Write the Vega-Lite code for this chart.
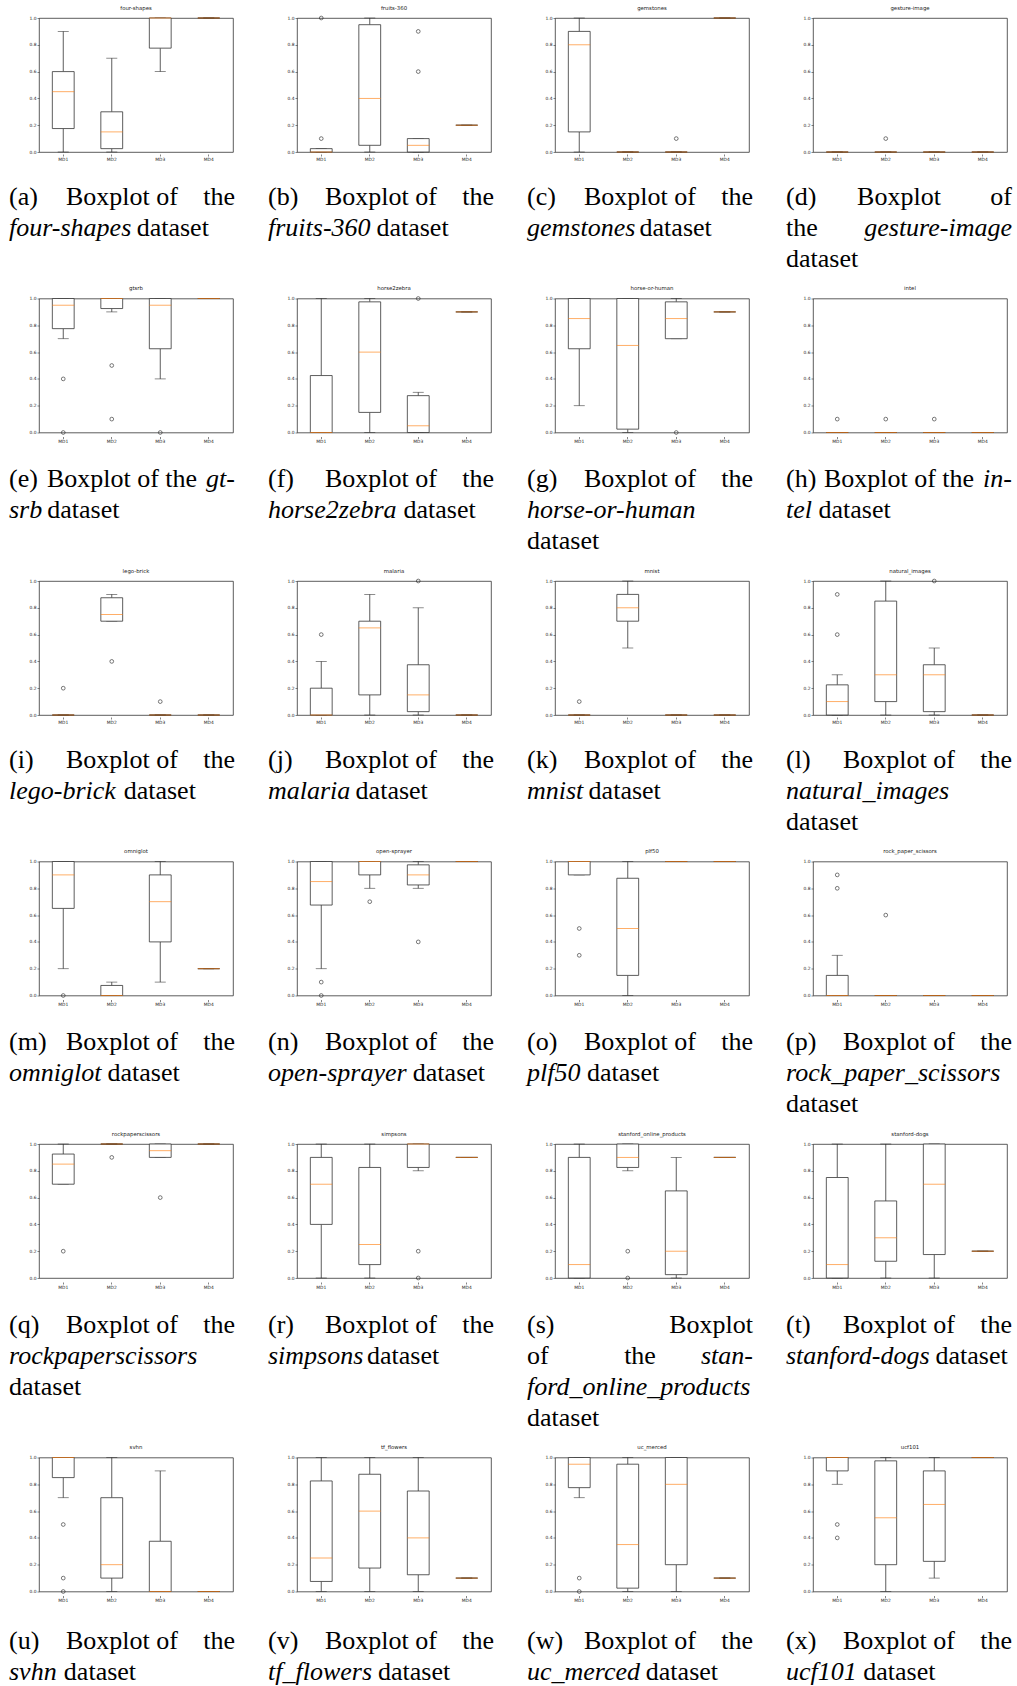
{
  "$schema": "https://vega.github.io/schema/vega-lite/v6.json",
  "padding": {"left": 8, "top": 5, "right": 0, "bottom": 0},
  "datasets": {
    "stats": [
      {"ds":"four-shapes","md":"MD1","lo":0,"q1":0.175,"med":0.45,"q3":0.6,"hi":0.9},
      {"ds":"four-shapes","md":"MD2","lo":0,"q1":0.025,"med":0.15,"q3":0.3,"hi":0.7},
      {"ds":"four-shapes","md":"MD3","lo":0.6,"q1":0.775,"med":1,"q3":1,"hi":1},
      {"ds":"four-shapes","md":"MD4","lo":1,"q1":1,"med":1,"q3":1,"hi":1},
      {"ds":"fruits-360","md":"MD1","lo":0,"q1":0,"med":0,"q3":0.025,"hi":0.025},
      {"ds":"fruits-360","md":"MD2","lo":0,"q1":0.05,"med":0.4,"q3":0.95,"hi":1},
      {"ds":"fruits-360","md":"MD3","lo":0,"q1":0,"med":0.05,"q3":0.1,"hi":0.1},
      {"ds":"fruits-360","md":"MD4","lo":0.2,"q1":0.2,"med":0.2,"q3":0.2,"hi":0.2},
      {"ds":"gemstones","md":"MD1","lo":0,"q1":0.15,"med":0.8,"q3":0.9,"hi":1},
      {"ds":"gemstones","md":"MD2","lo":0,"q1":0,"med":0,"q3":0,"hi":0},
      {"ds":"gemstones","md":"MD3","lo":0,"q1":0,"med":0,"q3":0,"hi":0},
      {"ds":"gemstones","md":"MD4","lo":1,"q1":1,"med":1,"q3":1,"hi":1},
      {"ds":"gesture-image","md":"MD1","lo":0,"q1":0,"med":0,"q3":0,"hi":0},
      {"ds":"gesture-image","md":"MD2","lo":0,"q1":0,"med":0,"q3":0,"hi":0},
      {"ds":"gesture-image","md":"MD3","lo":0,"q1":0,"med":0,"q3":0,"hi":0},
      {"ds":"gesture-image","md":"MD4","lo":0,"q1":0,"med":0,"q3":0,"hi":0},
      {"ds":"gtsrb","md":"MD1","lo":0.7,"q1":0.775,"med":0.95,"q3":1,"hi":1},
      {"ds":"gtsrb","md":"MD2","lo":0.9,"q1":0.925,"med":1,"q3":1,"hi":1},
      {"ds":"gtsrb","md":"MD3","lo":0.4,"q1":0.625,"med":0.95,"q3":1,"hi":1},
      {"ds":"gtsrb","md":"MD4","lo":1,"q1":1,"med":1,"q3":1,"hi":1},
      {"ds":"horse2zebra","md":"MD1","lo":0,"q1":0,"med":0,"q3":0.425,"hi":1},
      {"ds":"horse2zebra","md":"MD2","lo":0,"q1":0.15,"med":0.6,"q3":0.975,"hi":1},
      {"ds":"horse2zebra","md":"MD3","lo":0,"q1":0,"med":0.05,"q3":0.275,"hi":0.3},
      {"ds":"horse2zebra","md":"MD4","lo":0.9,"q1":0.9,"med":0.9,"q3":0.9,"hi":0.9},
      {"ds":"horse-or-human","md":"MD1","lo":0.2,"q1":0.625,"med":0.85,"q3":1,"hi":1},
      {"ds":"horse-or-human","md":"MD2","lo":0,"q1":0.025,"med":0.65,"q3":1,"hi":1},
      {"ds":"horse-or-human","md":"MD3","lo":0.7,"q1":0.7,"med":0.85,"q3":0.975,"hi":1},
      {"ds":"horse-or-human","md":"MD4","lo":0.9,"q1":0.9,"med":0.9,"q3":0.9,"hi":0.9},
      {"ds":"intel","md":"MD1","lo":0,"q1":0,"med":0,"q3":0,"hi":0},
      {"ds":"intel","md":"MD2","lo":0,"q1":0,"med":0,"q3":0,"hi":0},
      {"ds":"intel","md":"MD3","lo":0,"q1":0,"med":0,"q3":0,"hi":0},
      {"ds":"intel","md":"MD4","lo":0,"q1":0,"med":0,"q3":0,"hi":0},
      {"ds":"lego-brick","md":"MD1","lo":0,"q1":0,"med":0,"q3":0,"hi":0},
      {"ds":"lego-brick","md":"MD2","lo":0.7,"q1":0.7,"med":0.75,"q3":0.875,"hi":0.9},
      {"ds":"lego-brick","md":"MD3","lo":0,"q1":0,"med":0,"q3":0,"hi":0},
      {"ds":"lego-brick","md":"MD4","lo":0,"q1":0,"med":0,"q3":0,"hi":0},
      {"ds":"malaria","md":"MD1","lo":0,"q1":0,"med":0,"q3":0.2,"hi":0.4},
      {"ds":"malaria","md":"MD2","lo":0,"q1":0.15,"med":0.65,"q3":0.7,"hi":0.9},
      {"ds":"malaria","md":"MD3","lo":0,"q1":0.025,"med":0.15,"q3":0.375,"hi":0.8},
      {"ds":"malaria","md":"MD4","lo":0,"q1":0,"med":0,"q3":0,"hi":0},
      {"ds":"mnist","md":"MD1","lo":0,"q1":0,"med":0,"q3":0,"hi":0},
      {"ds":"mnist","md":"MD2","lo":0.5,"q1":0.7,"med":0.8,"q3":0.9,"hi":1},
      {"ds":"mnist","md":"MD3","lo":0,"q1":0,"med":0,"q3":0,"hi":0},
      {"ds":"mnist","md":"MD4","lo":0,"q1":0,"med":0,"q3":0,"hi":0},
      {"ds":"natural_images","md":"MD1","lo":0,"q1":0,"med":0.1,"q3":0.225,"hi":0.3},
      {"ds":"natural_images","md":"MD2","lo":0,"q1":0.1,"med":0.3,"q3":0.85,"hi":1},
      {"ds":"natural_images","md":"MD3","lo":0,"q1":0.025,"med":0.3,"q3":0.375,"hi":0.5},
      {"ds":"natural_images","md":"MD4","lo":0,"q1":0,"med":0,"q3":0,"hi":0},
      {"ds":"omniglot","md":"MD1","lo":0.2,"q1":0.65,"med":0.9,"q3":1,"hi":1},
      {"ds":"omniglot","md":"MD2","lo":0,"q1":0,"med":0,"q3":0.075,"hi":0.1},
      {"ds":"omniglot","md":"MD3","lo":0.1,"q1":0.4,"med":0.7,"q3":0.9,"hi":1},
      {"ds":"omniglot","md":"MD4","lo":0.2,"q1":0.2,"med":0.2,"q3":0.2,"hi":0.2},
      {"ds":"open-sprayer","md":"MD1","lo":0.2,"q1":0.675,"med":0.85,"q3":1,"hi":1},
      {"ds":"open-sprayer","md":"MD2","lo":0.8,"q1":0.9,"med":1,"q3":1,"hi":1},
      {"ds":"open-sprayer","md":"MD3","lo":0.8,"q1":0.825,"med":0.9,"q3":0.975,"hi":1},
      {"ds":"open-sprayer","md":"MD4","lo":1,"q1":1,"med":1,"q3":1,"hi":1},
      {"ds":"plf50","md":"MD1","lo":0.9,"q1":0.9,"med":1,"q3":1,"hi":1},
      {"ds":"plf50","md":"MD2","lo":0,"q1":0.15,"med":0.5,"q3":0.875,"hi":1},
      {"ds":"plf50","md":"MD3","lo":1,"q1":1,"med":1,"q3":1,"hi":1},
      {"ds":"plf50","md":"MD4","lo":1,"q1":1,"med":1,"q3":1,"hi":1},
      {"ds":"rock_paper_scissors","md":"MD1","lo":0,"q1":0,"med":0,"q3":0.15,"hi":0.3},
      {"ds":"rock_paper_scissors","md":"MD2","lo":0,"q1":0,"med":0,"q3":0,"hi":0},
      {"ds":"rock_paper_scissors","md":"MD3","lo":0,"q1":0,"med":0,"q3":0,"hi":0},
      {"ds":"rock_paper_scissors","md":"MD4","lo":0,"q1":0,"med":0,"q3":0,"hi":0},
      {"ds":"rockpaperscissors","md":"MD1","lo":0.7,"q1":0.7,"med":0.85,"q3":0.925,"hi":1},
      {"ds":"rockpaperscissors","md":"MD2","lo":1,"q1":1,"med":1,"q3":1,"hi":1},
      {"ds":"rockpaperscissors","md":"MD3","lo":0.9,"q1":0.9,"med":0.95,"q3":1,"hi":1},
      {"ds":"rockpaperscissors","md":"MD4","lo":1,"q1":1,"med":1,"q3":1,"hi":1},
      {"ds":"simpsons","md":"MD1","lo":0,"q1":0.4,"med":0.7,"q3":0.9,"hi":1},
      {"ds":"simpsons","md":"MD2","lo":0,"q1":0.1,"med":0.25,"q3":0.825,"hi":1},
      {"ds":"simpsons","md":"MD3","lo":0.8,"q1":0.825,"med":1,"q3":1,"hi":1},
      {"ds":"simpsons","md":"MD4","lo":0.9,"q1":0.9,"med":0.9,"q3":0.9,"hi":0.9},
      {"ds":"stanford_online_products","md":"MD1","lo":0,"q1":0,"med":0.1,"q3":0.9,"hi":1},
      {"ds":"stanford_online_products","md":"MD2","lo":0.8,"q1":0.825,"med":0.9,"q3":1,"hi":1},
      {"ds":"stanford_online_products","md":"MD3","lo":0,"q1":0.025,"med":0.2,"q3":0.65,"hi":0.9},
      {"ds":"stanford_online_products","md":"MD4","lo":0.9,"q1":0.9,"med":0.9,"q3":0.9,"hi":0.9},
      {"ds":"stanford-dogs","md":"MD1","lo":0,"q1":0,"med":0.1,"q3":0.75,"hi":1},
      {"ds":"stanford-dogs","md":"MD2","lo":0,"q1":0.125,"med":0.3,"q3":0.575,"hi":1},
      {"ds":"stanford-dogs","md":"MD3","lo":0,"q1":0.175,"med":0.7,"q3":1,"hi":1},
      {"ds":"stanford-dogs","md":"MD4","lo":0.2,"q1":0.2,"med":0.2,"q3":0.2,"hi":0.2},
      {"ds":"svhn","md":"MD1","lo":0.7,"q1":0.85,"med":1,"q3":1,"hi":1},
      {"ds":"svhn","md":"MD2","lo":0,"q1":0.1,"med":0.2,"q3":0.7,"hi":1},
      {"ds":"svhn","md":"MD3","lo":0,"q1":0,"med":0,"q3":0.375,"hi":0.9},
      {"ds":"svhn","md":"MD4","lo":0,"q1":0,"med":0,"q3":0,"hi":0},
      {"ds":"tf_flowers","md":"MD1","lo":0,"q1":0.075,"med":0.25,"q3":0.825,"hi":1},
      {"ds":"tf_flowers","md":"MD2","lo":0,"q1":0.175,"med":0.6,"q3":0.875,"hi":1},
      {"ds":"tf_flowers","md":"MD3","lo":0,"q1":0.125,"med":0.4,"q3":0.75,"hi":1},
      {"ds":"tf_flowers","md":"MD4","lo":0.1,"q1":0.1,"med":0.1,"q3":0.1,"hi":0.1},
      {"ds":"uc_merced","md":"MD1","lo":0.7,"q1":0.775,"med":0.95,"q3":1,"hi":1},
      {"ds":"uc_merced","md":"MD2","lo":0,"q1":0.025,"med":0.35,"q3":0.95,"hi":1},
      {"ds":"uc_merced","md":"MD3","lo":0,"q1":0.2,"med":0.8,"q3":1,"hi":1},
      {"ds":"uc_merced","md":"MD4","lo":0.1,"q1":0.1,"med":0.1,"q3":0.1,"hi":0.1},
      {"ds":"ucf101","md":"MD1","lo":0.8,"q1":0.9,"med":1,"q3":1,"hi":1},
      {"ds":"ucf101","md":"MD2","lo":0,"q1":0.2,"med":0.55,"q3":0.975,"hi":1},
      {"ds":"ucf101","md":"MD3","lo":0.1,"q1":0.225,"med":0.65,"q3":0.9,"hi":1},
      {"ds":"ucf101","md":"MD4","lo":1,"q1":1,"med":1,"q3":1,"hi":1},
      {"ds":"fruits-360","md":"MD1","v":0.1},
      {"ds":"fruits-360","md":"MD1","v":1},
      {"ds":"fruits-360","md":"MD3","v":0.6},
      {"ds":"fruits-360","md":"MD3","v":0.9},
      {"ds":"gemstones","md":"MD3","v":0.1},
      {"ds":"gesture-image","md":"MD2","v":0.1},
      {"ds":"gtsrb","md":"MD1","v":0.4},
      {"ds":"gtsrb","md":"MD1","v":0},
      {"ds":"gtsrb","md":"MD2","v":0.5},
      {"ds":"gtsrb","md":"MD2","v":0.1},
      {"ds":"gtsrb","md":"MD3","v":0},
      {"ds":"horse2zebra","md":"MD3","v":1},
      {"ds":"horse-or-human","md":"MD3","v":0},
      {"ds":"intel","md":"MD1","v":0.1},
      {"ds":"intel","md":"MD2","v":0.1},
      {"ds":"intel","md":"MD3","v":0.1},
      {"ds":"lego-brick","md":"MD1","v":0.2},
      {"ds":"lego-brick","md":"MD2","v":0.4},
      {"ds":"lego-brick","md":"MD3","v":0.1},
      {"ds":"malaria","md":"MD1","v":0.6},
      {"ds":"malaria","md":"MD3","v":1},
      {"ds":"mnist","md":"MD1","v":0.1},
      {"ds":"natural_images","md":"MD1","v":0.9},
      {"ds":"natural_images","md":"MD1","v":0.6},
      {"ds":"natural_images","md":"MD3","v":1},
      {"ds":"omniglot","md":"MD1","v":0},
      {"ds":"open-sprayer","md":"MD1","v":0.1},
      {"ds":"open-sprayer","md":"MD1","v":0},
      {"ds":"open-sprayer","md":"MD2","v":0.7},
      {"ds":"open-sprayer","md":"MD3","v":0.4},
      {"ds":"plf50","md":"MD1","v":0.5},
      {"ds":"plf50","md":"MD1","v":0.3},
      {"ds":"rock_paper_scissors","md":"MD1","v":0.9},
      {"ds":"rock_paper_scissors","md":"MD1","v":0.8},
      {"ds":"rock_paper_scissors","md":"MD2","v":0.6},
      {"ds":"rockpaperscissors","md":"MD1","v":0.2},
      {"ds":"rockpaperscissors","md":"MD2","v":0.9},
      {"ds":"rockpaperscissors","md":"MD3","v":0.6},
      {"ds":"simpsons","md":"MD3","v":0.2},
      {"ds":"simpsons","md":"MD3","v":0},
      {"ds":"stanford_online_products","md":"MD2","v":0.2},
      {"ds":"stanford_online_products","md":"MD2","v":0},
      {"ds":"svhn","md":"MD1","v":0.5},
      {"ds":"svhn","md":"MD1","v":0.1},
      {"ds":"svhn","md":"MD1","v":0},
      {"ds":"uc_merced","md":"MD1","v":0.1},
      {"ds":"uc_merced","md":"MD1","v":0},
      {"ds":"ucf101","md":"MD1","v":0.5},
      {"ds":"ucf101","md":"MD1","v":0.4}
    ],
    "cap": [
      {"id":"a","ln":1,"l":"(a)","c":"Boxplot of","r":"the"},
      {"id":"a","ln":2,"n":"four-shapes","d":"dataset"},
      {"id":"b","ln":1,"l":"(b)","c":"Boxplot of","r":"the"},
      {"id":"b","ln":2,"n":"fruits-360","d":"dataset"},
      {"id":"c","ln":1,"l":"(c)","c":"Boxplot of","r":"the"},
      {"id":"c","ln":2,"n":"gemstones","d":"dataset"},
      {"id":"d","ln":1,"l":"(d)","c":"Boxplot","r":"of"},
      {"id":"d","ln":2,"l":"the","nr":"gesture-image"},
      {"id":"d","ln":3,"l":"dataset"},
      {"id":"e","ln":1,"l":"(e)","c":"Boxplot of the","nr":"gt-"},
      {"id":"e","ln":2,"n":"srb","d":"dataset"},
      {"id":"f","ln":1,"l":"(f)","c":"Boxplot of","r":"the"},
      {"id":"f","ln":2,"n":"horse2zebra","d":"dataset"},
      {"id":"g","ln":1,"l":"(g)","c":"Boxplot of","r":"the"},
      {"id":"g","ln":2,"n":"horse-or-human"},
      {"id":"g","ln":3,"l":"dataset"},
      {"id":"h","ln":1,"l":"(h)","c":"Boxplot of the","nr":"in-"},
      {"id":"h","ln":2,"n":"tel","d":"dataset"},
      {"id":"i","ln":1,"l":"(i)","c":"Boxplot of","r":"the"},
      {"id":"i","ln":2,"n":"lego-brick","d":"dataset"},
      {"id":"j","ln":1,"l":"(j)","c":"Boxplot of","r":"the"},
      {"id":"j","ln":2,"n":"malaria","d":"dataset"},
      {"id":"k","ln":1,"l":"(k)","c":"Boxplot of","r":"the"},
      {"id":"k","ln":2,"n":"mnist","d":"dataset"},
      {"id":"l","ln":1,"l":"(l)","c":"Boxplot of","r":"the"},
      {"id":"l","ln":2,"n":"natural_images"},
      {"id":"l","ln":3,"l":"dataset"},
      {"id":"m","ln":1,"l":"(m)","c":"Boxplot of","r":"the"},
      {"id":"m","ln":2,"n":"omniglot","d":"dataset"},
      {"id":"n","ln":1,"l":"(n)","c":"Boxplot of","r":"the"},
      {"id":"n","ln":2,"n":"open-sprayer","d":"dataset"},
      {"id":"o","ln":1,"l":"(o)","c":"Boxplot of","r":"the"},
      {"id":"o","ln":2,"n":"plf50","d":"dataset"},
      {"id":"p","ln":1,"l":"(p)","c":"Boxplot of","r":"the"},
      {"id":"p","ln":2,"n":"rock_paper_scissors"},
      {"id":"p","ln":3,"l":"dataset"},
      {"id":"q","ln":1,"l":"(q)","c":"Boxplot of","r":"the"},
      {"id":"q","ln":2,"n":"rockpaperscissors"},
      {"id":"q","ln":3,"l":"dataset"},
      {"id":"r","ln":1,"l":"(r)","c":"Boxplot of","r":"the"},
      {"id":"r","ln":2,"n":"simpsons","d":"dataset"},
      {"id":"s","ln":1,"l":"(s)","r":"Boxplot"},
      {"id":"s","ln":2,"l":"of","c":"the","nr":"stan-"},
      {"id":"s","ln":3,"n":"ford_online_products"},
      {"id":"s","ln":4,"l":"dataset"},
      {"id":"t","ln":1,"l":"(t)","c":"Boxplot of","r":"the"},
      {"id":"t","ln":2,"n":"stanford-dogs","d":"dataset"},
      {"id":"u","ln":1,"l":"(u)","c":"Boxplot of","r":"the"},
      {"id":"u","ln":2,"n":"svhn","d":"dataset"},
      {"id":"v","ln":1,"l":"(v)","c":"Boxplot of","r":"the"},
      {"id":"v","ln":2,"n":"tf_flowers","d":"dataset"},
      {"id":"w","ln":1,"l":"(w)","c":"Boxplot of","r":"the"},
      {"id":"w","ln":2,"n":"uc_merced","d":"dataset"},
      {"id":"x","ln":1,"l":"(x)","c":"Boxplot of","r":"the"},
      {"id":"x","ln":2,"n":"ucf101","d":"dataset"}
    ]
  },
  "spacing": 11.5,
  "vconcat": [
    {"spacing": 20, "vconcat": [
      {"data": {"name": "stats"},
       "transform": [{"filter": {"field": "ds", "oneOf": ["four-shapes","fruits-360","gemstones","gesture-image"]}}],
       "facet": {"column": {"field": "ds", "type": "nominal", "title": null, "sort": ["four-shapes","fruits-360","gemstones","gesture-image"]}},
       "spacing": 32, "resolve": {"axis": {"y": "independent"}},
       "spec": {"width": 194, "height": 134, "view": {"stroke": "#333", "strokeWidth": 0.8},
        "encoding": {"x": {"field": "md", "type": "nominal", "title": null, "scale": {"domain": ["MD1","MD2","MD3","MD4"], "paddingInner": 0, "paddingOuter": 0}, "axis": {"labelAngle": 0}}},
        "layer": [
          {"transform": [{"filter": "isValid(datum.q1)"}], "mark": {"type": "rule", "color": "#333", "strokeWidth": 0.8}, "encoding": {"y": {"field": "lo", "type": "quantitative", "title": null, "scale": {"domain": [0, 1], "nice": false, "zero": false}, "axis": {"values": [0, 0.2, 0.4, 0.6, 0.8, 1], "format": ".1f", "labelOverlap": false}}, "y2": {"field": "q1"}}},
          {"transform": [{"filter": "isValid(datum.q1)"}], "mark": {"type": "rule", "color": "#333", "strokeWidth": 0.8}, "encoding": {"y": {"field": "q3", "type": "quantitative", "title": null, "axis": {"values": [0, 0.2, 0.4, 0.6, 0.8, 1], "format": ".1f", "labelOverlap": false}}, "y2": {"field": "hi"}}},
          {"transform": [{"filter": "isValid(datum.q1)"}], "mark": {"type": "tick", "color": "#333", "size": 11, "thickness": 0.8}, "encoding": {"y": {"field": "lo", "type": "quantitative", "title": null, "axis": {"values": [0, 0.2, 0.4, 0.6, 0.8, 1], "format": ".1f", "labelOverlap": false}}}},
          {"transform": [{"filter": "isValid(datum.q1)"}], "mark": {"type": "tick", "color": "#333", "size": 11, "thickness": 0.8}, "encoding": {"y": {"field": "hi", "type": "quantitative", "title": null, "axis": {"values": [0, 0.2, 0.4, 0.6, 0.8, 1], "format": ".1f", "labelOverlap": false}}}},
          {"transform": [{"filter": "isValid(datum.q1)"}], "mark": {"type": "bar", "fill": "#fff", "stroke": "#333", "strokeWidth": 0.8, "width": {"band": 0.45}}, "encoding": {"y": {"field": "q1", "type": "quantitative", "title": null, "axis": {"values": [0, 0.2, 0.4, 0.6, 0.8, 1], "format": ".1f", "labelOverlap": false}}, "y2": {"field": "q3"}}},
          {"transform": [{"filter": "isValid(datum.q1)"}], "mark": {"type": "tick", "color": "#ff7f0e", "size": 22, "thickness": 0.9}, "encoding": {"y": {"field": "med", "type": "quantitative", "title": null, "axis": {"values": [0, 0.2, 0.4, 0.6, 0.8, 1], "format": ".1f", "labelOverlap": false}}}},
          {"transform": [{"filter": "isValid(datum.v)"}], "mark": {"type": "point", "shape": "circle", "filled": false, "stroke": "#222", "strokeWidth": 0.6, "size": 14, "opacity": 1}, "encoding": {"y": {"field": "v", "type": "quantitative", "title": null, "axis": {"values": [0, 0.2, 0.4, 0.6, 0.8, 1], "format": ".1f", "labelOverlap": false}}}}
        ]}},
      {"data": {"name": "cap"},
       "transform": [{"filter": {"field": "id", "oneOf": ["a","b","c","d"]}}],
       "facet": {"column": {"field": "id", "type": "nominal", "title": null, "header": null}},
       "spacing": 3,
       "spec": {"width": 226, "height": {"step": 31}, "view": {"stroke": null},
        "encoding": {"y": {"field": "ln", "type": "ordinal", "axis": null, "title": null}},
        "layer": [
          {"transform": [{"filter": "datum.l"}], "mark": {"type": "text", "align": "left", "font": "Liberation Serif", "fontSize": 26, "color": "#000"}, "encoding": {"x": {"datum": 0, "type": "quantitative", "scale": {"domain": [1.1538, 9.8458], "nice": false, "zero": false}, "axis": null}, "text": {"field": "l"}}},
          {"transform": [{"filter": "datum.c"}], "mark": {"type": "text", "align": "center", "font": "Liberation Serif", "fontSize": 26, "color": "#000"}, "encoding": {"x": {"datum": 4.346, "type": "quantitative", "scale": {"domain": [1.1538, 9.8458], "nice": false, "zero": false}, "axis": null}, "text": {"field": "c"}}},
          {"transform": [{"filter": "datum.r"}], "mark": {"type": "text", "align": "right", "font": "Liberation Serif", "fontSize": 26, "color": "#000"}, "encoding": {"x": {"datum": 8.692, "type": "quantitative", "scale": {"domain": [1.1538, 9.8458], "nice": false, "zero": false}, "axis": null}, "text": {"field": "r"}}},
          {"transform": [{"filter": "datum.nr"}], "mark": {"type": "text", "align": "right", "font": "Liberation Serif", "fontStyle": "italic", "fontSize": 26, "color": "#000"}, "encoding": {"x": {"datum": 8.692, "type": "quantitative", "scale": {"domain": [1.1538, 9.8458], "nice": false, "zero": false}, "axis": null}, "text": {"field": "nr"}}},
          {"transform": [{"filter": "datum.n"}], "mark": {"type": "text", "align": "left", "font": "Liberation Serif", "fontStyle": "italic", "fontSize": 26, "color": "#000"}, "encoding": {"x": {"datum": 0, "type": "quantitative", "scale": {"domain": [1.1538, 9.8458], "nice": false, "zero": false}, "axis": null}, "text": {"field": "n"}}},
          {"transform": [{"filter": "datum.d"}, {"calculate": "0.5*length(datum.n) - 0.22*length(replace(datum.n, regexp('[^iltfj]', 'g'), '')) - 0.14*length(replace(datum.n, regexp('[^rs-]', 'g'), '')) - 0.06*length(replace(datum.n, regexp('[^ec]', 'g'), '')) + 0.2*length(replace(datum.n, regexp('[^mw]', 'g'), '')) + 0.25", "as": "after"}], "mark": {"type": "text", "align": "left", "font": "Liberation Serif", "fontSize": 26, "color": "#000"}, "encoding": {"x": {"field": "after", "type": "quantitative", "scale": {"domain": [1.1538, 9.8458], "nice": false, "zero": false}, "axis": null}, "text": {"field": "d"}}}
        ]}}
    ]},
    {"spacing": 20, "vconcat": [
      {"data": {"name": "stats"},
       "transform": [{"filter": {"field": "ds", "oneOf": ["gtsrb","horse2zebra","horse-or-human","intel"]}}],
       "facet": {"column": {"field": "ds", "type": "nominal", "title": null, "sort": ["gtsrb","horse2zebra","horse-or-human","intel"]}},
       "spacing": 32, "resolve": {"axis": {"y": "independent"}},
       "spec": {"width": 194, "height": 134, "view": {"stroke": "#333", "strokeWidth": 0.8},
        "encoding": {"x": {"field": "md", "type": "nominal", "title": null, "scale": {"domain": ["MD1","MD2","MD3","MD4"], "paddingInner": 0, "paddingOuter": 0}, "axis": {"labelAngle": 0}}},
        "layer": [
          {"transform": [{"filter": "isValid(datum.q1)"}], "mark": {"type": "rule", "color": "#333", "strokeWidth": 0.8}, "encoding": {"y": {"field": "lo", "type": "quantitative", "title": null, "scale": {"domain": [0, 1], "nice": false, "zero": false}, "axis": {"values": [0, 0.2, 0.4, 0.6, 0.8, 1], "format": ".1f", "labelOverlap": false}}, "y2": {"field": "q1"}}},
          {"transform": [{"filter": "isValid(datum.q1)"}], "mark": {"type": "rule", "color": "#333", "strokeWidth": 0.8}, "encoding": {"y": {"field": "q3", "type": "quantitative", "title": null, "axis": {"values": [0, 0.2, 0.4, 0.6, 0.8, 1], "format": ".1f", "labelOverlap": false}}, "y2": {"field": "hi"}}},
          {"transform": [{"filter": "isValid(datum.q1)"}], "mark": {"type": "tick", "color": "#333", "size": 11, "thickness": 0.8}, "encoding": {"y": {"field": "lo", "type": "quantitative", "title": null, "axis": {"values": [0, 0.2, 0.4, 0.6, 0.8, 1], "format": ".1f", "labelOverlap": false}}}},
          {"transform": [{"filter": "isValid(datum.q1)"}], "mark": {"type": "tick", "color": "#333", "size": 11, "thickness": 0.8}, "encoding": {"y": {"field": "hi", "type": "quantitative", "title": null, "axis": {"values": [0, 0.2, 0.4, 0.6, 0.8, 1], "format": ".1f", "labelOverlap": false}}}},
          {"transform": [{"filter": "isValid(datum.q1)"}], "mark": {"type": "bar", "fill": "#fff", "stroke": "#333", "strokeWidth": 0.8, "width": {"band": 0.45}}, "encoding": {"y": {"field": "q1", "type": "quantitative", "title": null, "axis": {"values": [0, 0.2, 0.4, 0.6, 0.8, 1], "format": ".1f", "labelOverlap": false}}, "y2": {"field": "q3"}}},
          {"transform": [{"filter": "isValid(datum.q1)"}], "mark": {"type": "tick", "color": "#ff7f0e", "size": 22, "thickness": 0.9}, "encoding": {"y": {"field": "med", "type": "quantitative", "title": null, "axis": {"values": [0, 0.2, 0.4, 0.6, 0.8, 1], "format": ".1f", "labelOverlap": false}}}},
          {"transform": [{"filter": "isValid(datum.v)"}], "mark": {"type": "point", "shape": "circle", "filled": false, "stroke": "#222", "strokeWidth": 0.6, "size": 14, "opacity": 1}, "encoding": {"y": {"field": "v", "type": "quantitative", "title": null, "axis": {"values": [0, 0.2, 0.4, 0.6, 0.8, 1], "format": ".1f", "labelOverlap": false}}}}
        ]}},
      {"data": {"name": "cap"},
       "transform": [{"filter": {"field": "id", "oneOf": ["e","f","g","h"]}}],
       "facet": {"column": {"field": "id", "type": "nominal", "title": null, "header": null}},
       "spacing": 3,
       "spec": {"width": 226, "height": {"step": 31}, "view": {"stroke": null},
        "encoding": {"y": {"field": "ln", "type": "ordinal", "axis": null, "title": null}},
        "layer": [
          {"transform": [{"filter": "datum.l"}], "mark": {"type": "text", "align": "left", "font": "Liberation Serif", "fontSize": 26, "color": "#000"}, "encoding": {"x": {"datum": 0, "type": "quantitative", "scale": {"domain": [1.1538, 9.8458], "nice": false, "zero": false}, "axis": null}, "text": {"field": "l"}}},
          {"transform": [{"filter": "datum.c"}], "mark": {"type": "text", "align": "center", "font": "Liberation Serif", "fontSize": 26, "color": "#000"}, "encoding": {"x": {"datum": 4.346, "type": "quantitative", "scale": {"domain": [1.1538, 9.8458], "nice": false, "zero": false}, "axis": null}, "text": {"field": "c"}}},
          {"transform": [{"filter": "datum.r"}], "mark": {"type": "text", "align": "right", "font": "Liberation Serif", "fontSize": 26, "color": "#000"}, "encoding": {"x": {"datum": 8.692, "type": "quantitative", "scale": {"domain": [1.1538, 9.8458], "nice": false, "zero": false}, "axis": null}, "text": {"field": "r"}}},
          {"transform": [{"filter": "datum.nr"}], "mark": {"type": "text", "align": "right", "font": "Liberation Serif", "fontStyle": "italic", "fontSize": 26, "color": "#000"}, "encoding": {"x": {"datum": 8.692, "type": "quantitative", "scale": {"domain": [1.1538, 9.8458], "nice": false, "zero": false}, "axis": null}, "text": {"field": "nr"}}},
          {"transform": [{"filter": "datum.n"}], "mark": {"type": "text", "align": "left", "font": "Liberation Serif", "fontStyle": "italic", "fontSize": 26, "color": "#000"}, "encoding": {"x": {"datum": 0, "type": "quantitative", "scale": {"domain": [1.1538, 9.8458], "nice": false, "zero": false}, "axis": null}, "text": {"field": "n"}}},
          {"transform": [{"filter": "datum.d"}, {"calculate": "0.5*length(datum.n) - 0.22*length(replace(datum.n, regexp('[^iltfj]', 'g'), '')) - 0.14*length(replace(datum.n, regexp('[^rs-]', 'g'), '')) - 0.06*length(replace(datum.n, regexp('[^ec]', 'g'), '')) + 0.2*length(replace(datum.n, regexp('[^mw]', 'g'), '')) + 0.25", "as": "after"}], "mark": {"type": "text", "align": "left", "font": "Liberation Serif", "fontSize": 26, "color": "#000"}, "encoding": {"x": {"field": "after", "type": "quantitative", "scale": {"domain": [1.1538, 9.8458], "nice": false, "zero": false}, "axis": null}, "text": {"field": "d"}}}
        ]}}
    ]},
    {"spacing": 20, "vconcat": [
      {"data": {"name": "stats"},
       "transform": [{"filter": {"field": "ds", "oneOf": ["lego-brick","malaria","mnist","natural_images"]}}],
       "facet": {"column": {"field": "ds", "type": "nominal", "title": null, "sort": ["lego-brick","malaria","mnist","natural_images"]}},
       "spacing": 32, "resolve": {"axis": {"y": "independent"}},
       "spec": {"width": 194, "height": 134, "view": {"stroke": "#333", "strokeWidth": 0.8},
        "encoding": {"x": {"field": "md", "type": "nominal", "title": null, "scale": {"domain": ["MD1","MD2","MD3","MD4"], "paddingInner": 0, "paddingOuter": 0}, "axis": {"labelAngle": 0}}},
        "layer": [
          {"transform": [{"filter": "isValid(datum.q1)"}], "mark": {"type": "rule", "color": "#333", "strokeWidth": 0.8}, "encoding": {"y": {"field": "lo", "type": "quantitative", "title": null, "scale": {"domain": [0, 1], "nice": false, "zero": false}, "axis": {"values": [0, 0.2, 0.4, 0.6, 0.8, 1], "format": ".1f", "labelOverlap": false}}, "y2": {"field": "q1"}}},
          {"transform": [{"filter": "isValid(datum.q1)"}], "mark": {"type": "rule", "color": "#333", "strokeWidth": 0.8}, "encoding": {"y": {"field": "q3", "type": "quantitative", "title": null, "axis": {"values": [0, 0.2, 0.4, 0.6, 0.8, 1], "format": ".1f", "labelOverlap": false}}, "y2": {"field": "hi"}}},
          {"transform": [{"filter": "isValid(datum.q1)"}], "mark": {"type": "tick", "color": "#333", "size": 11, "thickness": 0.8}, "encoding": {"y": {"field": "lo", "type": "quantitative", "title": null, "axis": {"values": [0, 0.2, 0.4, 0.6, 0.8, 1], "format": ".1f", "labelOverlap": false}}}},
          {"transform": [{"filter": "isValid(datum.q1)"}], "mark": {"type": "tick", "color": "#333", "size": 11, "thickness": 0.8}, "encoding": {"y": {"field": "hi", "type": "quantitative", "title": null, "axis": {"values": [0, 0.2, 0.4, 0.6, 0.8, 1], "format": ".1f", "labelOverlap": false}}}},
          {"transform": [{"filter": "isValid(datum.q1)"}], "mark": {"type": "bar", "fill": "#fff", "stroke": "#333", "strokeWidth": 0.8, "width": {"band": 0.45}}, "encoding": {"y": {"field": "q1", "type": "quantitative", "title": null, "axis": {"values": [0, 0.2, 0.4, 0.6, 0.8, 1], "format": ".1f", "labelOverlap": false}}, "y2": {"field": "q3"}}},
          {"transform": [{"filter": "isValid(datum.q1)"}], "mark": {"type": "tick", "color": "#ff7f0e", "size": 22, "thickness": 0.9}, "encoding": {"y": {"field": "med", "type": "quantitative", "title": null, "axis": {"values": [0, 0.2, 0.4, 0.6, 0.8, 1], "format": ".1f", "labelOverlap": false}}}},
          {"transform": [{"filter": "isValid(datum.v)"}], "mark": {"type": "point", "shape": "circle", "filled": false, "stroke": "#222", "strokeWidth": 0.6, "size": 14, "opacity": 1}, "encoding": {"y": {"field": "v", "type": "quantitative", "title": null, "axis": {"values": [0, 0.2, 0.4, 0.6, 0.8, 1], "format": ".1f", "labelOverlap": false}}}}
        ]}},
      {"data": {"name": "cap"},
       "transform": [{"filter": {"field": "id", "oneOf": ["i","j","k","l"]}}],
       "facet": {"column": {"field": "id", "type": "nominal", "title": null, "header": null}},
       "spacing": 3,
       "spec": {"width": 226, "height": {"step": 31}, "view": {"stroke": null},
        "encoding": {"y": {"field": "ln", "type": "ordinal", "axis": null, "title": null}},
        "layer": [
          {"transform": [{"filter": "datum.l"}], "mark": {"type": "text", "align": "left", "font": "Liberation Serif", "fontSize": 26, "color": "#000"}, "encoding": {"x": {"datum": 0, "type": "quantitative", "scale": {"domain": [1.1538, 9.8458], "nice": false, "zero": false}, "axis": null}, "text": {"field": "l"}}},
          {"transform": [{"filter": "datum.c"}], "mark": {"type": "text", "align": "center", "font": "Liberation Serif", "fontSize": 26, "color": "#000"}, "encoding": {"x": {"datum": 4.346, "type": "quantitative", "scale": {"domain": [1.1538, 9.8458], "nice": false, "zero": false}, "axis": null}, "text": {"field": "c"}}},
          {"transform": [{"filter": "datum.r"}], "mark": {"type": "text", "align": "right", "font": "Liberation Serif", "fontSize": 26, "color": "#000"}, "encoding": {"x": {"datum": 8.692, "type": "quantitative", "scale": {"domain": [1.1538, 9.8458], "nice": false, "zero": false}, "axis": null}, "text": {"field": "r"}}},
          {"transform": [{"filter": "datum.nr"}], "mark": {"type": "text", "align": "right", "font": "Liberation Serif", "fontStyle": "italic", "fontSize": 26, "color": "#000"}, "encoding": {"x": {"datum": 8.692, "type": "quantitative", "scale": {"domain": [1.1538, 9.8458], "nice": false, "zero": false}, "axis": null}, "text": {"field": "nr"}}},
          {"transform": [{"filter": "datum.n"}], "mark": {"type": "text", "align": "left", "font": "Liberation Serif", "fontStyle": "italic", "fontSize": 26, "color": "#000"}, "encoding": {"x": {"datum": 0, "type": "quantitative", "scale": {"domain": [1.1538, 9.8458], "nice": false, "zero": false}, "axis": null}, "text": {"field": "n"}}},
          {"transform": [{"filter": "datum.d"}, {"calculate": "0.5*length(datum.n) - 0.22*length(replace(datum.n, regexp('[^iltfj]', 'g'), '')) - 0.14*length(replace(datum.n, regexp('[^rs-]', 'g'), '')) - 0.06*length(replace(datum.n, regexp('[^ec]', 'g'), '')) + 0.2*length(replace(datum.n, regexp('[^mw]', 'g'), '')) + 0.25", "as": "after"}], "mark": {"type": "text", "align": "left", "font": "Liberation Serif", "fontSize": 26, "color": "#000"}, "encoding": {"x": {"field": "after", "type": "quantitative", "scale": {"domain": [1.1538, 9.8458], "nice": false, "zero": false}, "axis": null}, "text": {"field": "d"}}}
        ]}}
    ]},
    {"spacing": 20, "vconcat": [
      {"data": {"name": "stats"},
       "transform": [{"filter": {"field": "ds", "oneOf": ["omniglot","open-sprayer","plf50","rock_paper_scissors"]}}],
       "facet": {"column": {"field": "ds", "type": "nominal", "title": null, "sort": ["omniglot","open-sprayer","plf50","rock_paper_scissors"]}},
       "spacing": 32, "resolve": {"axis": {"y": "independent"}},
       "spec": {"width": 194, "height": 134, "view": {"stroke": "#333", "strokeWidth": 0.8},
        "encoding": {"x": {"field": "md", "type": "nominal", "title": null, "scale": {"domain": ["MD1","MD2","MD3","MD4"], "paddingInner": 0, "paddingOuter": 0}, "axis": {"labelAngle": 0}}},
        "layer": [
          {"transform": [{"filter": "isValid(datum.q1)"}], "mark": {"type": "rule", "color": "#333", "strokeWidth": 0.8}, "encoding": {"y": {"field": "lo", "type": "quantitative", "title": null, "scale": {"domain": [0, 1], "nice": false, "zero": false}, "axis": {"values": [0, 0.2, 0.4, 0.6, 0.8, 1], "format": ".1f", "labelOverlap": false}}, "y2": {"field": "q1"}}},
          {"transform": [{"filter": "isValid(datum.q1)"}], "mark": {"type": "rule", "color": "#333", "strokeWidth": 0.8}, "encoding": {"y": {"field": "q3", "type": "quantitative", "title": null, "axis": {"values": [0, 0.2, 0.4, 0.6, 0.8, 1], "format": ".1f", "labelOverlap": false}}, "y2": {"field": "hi"}}},
          {"transform": [{"filter": "isValid(datum.q1)"}], "mark": {"type": "tick", "color": "#333", "size": 11, "thickness": 0.8}, "encoding": {"y": {"field": "lo", "type": "quantitative", "title": null, "axis": {"values": [0, 0.2, 0.4, 0.6, 0.8, 1], "format": ".1f", "labelOverlap": false}}}},
          {"transform": [{"filter": "isValid(datum.q1)"}], "mark": {"type": "tick", "color": "#333", "size": 11, "thickness": 0.8}, "encoding": {"y": {"field": "hi", "type": "quantitative", "title": null, "axis": {"values": [0, 0.2, 0.4, 0.6, 0.8, 1], "format": ".1f", "labelOverlap": false}}}},
          {"transform": [{"filter": "isValid(datum.q1)"}], "mark": {"type": "bar", "fill": "#fff", "stroke": "#333", "strokeWidth": 0.8, "width": {"band": 0.45}}, "encoding": {"y": {"field": "q1", "type": "quantitative", "title": null, "axis": {"values": [0, 0.2, 0.4, 0.6, 0.8, 1], "format": ".1f", "labelOverlap": false}}, "y2": {"field": "q3"}}},
          {"transform": [{"filter": "isValid(datum.q1)"}], "mark": {"type": "tick", "color": "#ff7f0e", "size": 22, "thickness": 0.9}, "encoding": {"y": {"field": "med", "type": "quantitative", "title": null, "axis": {"values": [0, 0.2, 0.4, 0.6, 0.8, 1], "format": ".1f", "labelOverlap": false}}}},
          {"transform": [{"filter": "isValid(datum.v)"}], "mark": {"type": "point", "shape": "circle", "filled": false, "stroke": "#222", "strokeWidth": 0.6, "size": 14, "opacity": 1}, "encoding": {"y": {"field": "v", "type": "quantitative", "title": null, "axis": {"values": [0, 0.2, 0.4, 0.6, 0.8, 1], "format": ".1f", "labelOverlap": false}}}}
        ]}},
      {"data": {"name": "cap"},
       "transform": [{"filter": {"field": "id", "oneOf": ["m","n","o","p"]}}],
       "facet": {"column": {"field": "id", "type": "nominal", "title": null, "header": null}},
       "spacing": 3,
       "spec": {"width": 226, "height": {"step": 31}, "view": {"stroke": null},
        "encoding": {"y": {"field": "ln", "type": "ordinal", "axis": null, "title": null}},
        "layer": [
          {"transform": [{"filter": "datum.l"}], "mark": {"type": "text", "align": "left", "font": "Liberation Serif", "fontSize": 26, "color": "#000"}, "encoding": {"x": {"datum": 0, "type": "quantitative", "scale": {"domain": [1.1538, 9.8458], "nice": false, "zero": false}, "axis": null}, "text": {"field": "l"}}},
          {"transform": [{"filter": "datum.c"}], "mark": {"type": "text", "align": "center", "font": "Liberation Serif", "fontSize": 26, "color": "#000"}, "encoding": {"x": {"datum": 4.346, "type": "quantitative", "scale": {"domain": [1.1538, 9.8458], "nice": false, "zero": false}, "axis": null}, "text": {"field": "c"}}},
          {"transform": [{"filter": "datum.r"}], "mark": {"type": "text", "align": "right", "font": "Liberation Serif", "fontSize": 26, "color": "#000"}, "encoding": {"x": {"datum": 8.692, "type": "quantitative", "scale": {"domain": [1.1538, 9.8458], "nice": false, "zero": false}, "axis": null}, "text": {"field": "r"}}},
          {"transform": [{"filter": "datum.nr"}], "mark": {"type": "text", "align": "right", "font": "Liberation Serif", "fontStyle": "italic", "fontSize": 26, "color": "#000"}, "encoding": {"x": {"datum": 8.692, "type": "quantitative", "scale": {"domain": [1.1538, 9.8458], "nice": false, "zero": false}, "axis": null}, "text": {"field": "nr"}}},
          {"transform": [{"filter": "datum.n"}], "mark": {"type": "text", "align": "left", "font": "Liberation Serif", "fontStyle": "italic", "fontSize": 26, "color": "#000"}, "encoding": {"x": {"datum": 0, "type": "quantitative", "scale": {"domain": [1.1538, 9.8458], "nice": false, "zero": false}, "axis": null}, "text": {"field": "n"}}},
          {"transform": [{"filter": "datum.d"}, {"calculate": "0.5*length(datum.n) - 0.22*length(replace(datum.n, regexp('[^iltfj]', 'g'), '')) - 0.14*length(replace(datum.n, regexp('[^rs-]', 'g'), '')) - 0.06*length(replace(datum.n, regexp('[^ec]', 'g'), '')) + 0.2*length(replace(datum.n, regexp('[^mw]', 'g'), '')) + 0.25", "as": "after"}], "mark": {"type": "text", "align": "left", "font": "Liberation Serif", "fontSize": 26, "color": "#000"}, "encoding": {"x": {"field": "after", "type": "quantitative", "scale": {"domain": [1.1538, 9.8458], "nice": false, "zero": false}, "axis": null}, "text": {"field": "d"}}}
        ]}}
    ]},
    {"spacing": 20, "vconcat": [
      {"data": {"name": "stats"},
       "transform": [{"filter": {"field": "ds", "oneOf": ["rockpaperscissors","simpsons","stanford_online_products","stanford-dogs"]}}],
       "facet": {"column": {"field": "ds", "type": "nominal", "title": null, "sort": ["rockpaperscissors","simpsons","stanford_online_products","stanford-dogs"]}},
       "spacing": 32, "resolve": {"axis": {"y": "independent"}},
       "spec": {"width": 194, "height": 134, "view": {"stroke": "#333", "strokeWidth": 0.8},
        "encoding": {"x": {"field": "md", "type": "nominal", "title": null, "scale": {"domain": ["MD1","MD2","MD3","MD4"], "paddingInner": 0, "paddingOuter": 0}, "axis": {"labelAngle": 0}}},
        "layer": [
          {"transform": [{"filter": "isValid(datum.q1)"}], "mark": {"type": "rule", "color": "#333", "strokeWidth": 0.8}, "encoding": {"y": {"field": "lo", "type": "quantitative", "title": null, "scale": {"domain": [0, 1], "nice": false, "zero": false}, "axis": {"values": [0, 0.2, 0.4, 0.6, 0.8, 1], "format": ".1f", "labelOverlap": false}}, "y2": {"field": "q1"}}},
          {"transform": [{"filter": "isValid(datum.q1)"}], "mark": {"type": "rule", "color": "#333", "strokeWidth": 0.8}, "encoding": {"y": {"field": "q3", "type": "quantitative", "title": null, "axis": {"values": [0, 0.2, 0.4, 0.6, 0.8, 1], "format": ".1f", "labelOverlap": false}}, "y2": {"field": "hi"}}},
          {"transform": [{"filter": "isValid(datum.q1)"}], "mark": {"type": "tick", "color": "#333", "size": 11, "thickness": 0.8}, "encoding": {"y": {"field": "lo", "type": "quantitative", "title": null, "axis": {"values": [0, 0.2, 0.4, 0.6, 0.8, 1], "format": ".1f", "labelOverlap": false}}}},
          {"transform": [{"filter": "isValid(datum.q1)"}], "mark": {"type": "tick", "color": "#333", "size": 11, "thickness": 0.8}, "encoding": {"y": {"field": "hi", "type": "quantitative", "title": null, "axis": {"values": [0, 0.2, 0.4, 0.6, 0.8, 1], "format": ".1f", "labelOverlap": false}}}},
          {"transform": [{"filter": "isValid(datum.q1)"}], "mark": {"type": "bar", "fill": "#fff", "stroke": "#333", "strokeWidth": 0.8, "width": {"band": 0.45}}, "encoding": {"y": {"field": "q1", "type": "quantitative", "title": null, "axis": {"values": [0, 0.2, 0.4, 0.6, 0.8, 1], "format": ".1f", "labelOverlap": false}}, "y2": {"field": "q3"}}},
          {"transform": [{"filter": "isValid(datum.q1)"}], "mark": {"type": "tick", "color": "#ff7f0e", "size": 22, "thickness": 0.9}, "encoding": {"y": {"field": "med", "type": "quantitative", "title": null, "axis": {"values": [0, 0.2, 0.4, 0.6, 0.8, 1], "format": ".1f", "labelOverlap": false}}}},
          {"transform": [{"filter": "isValid(datum.v)"}], "mark": {"type": "point", "shape": "circle", "filled": false, "stroke": "#222", "strokeWidth": 0.6, "size": 14, "opacity": 1}, "encoding": {"y": {"field": "v", "type": "quantitative", "title": null, "axis": {"values": [0, 0.2, 0.4, 0.6, 0.8, 1], "format": ".1f", "labelOverlap": false}}}}
        ]}},
      {"data": {"name": "cap"},
       "transform": [{"filter": {"field": "id", "oneOf": ["q","r","s","t"]}}],
       "facet": {"column": {"field": "id", "type": "nominal", "title": null, "header": null}},
       "spacing": 3,
       "spec": {"width": 226, "height": {"step": 31}, "view": {"stroke": null},
        "encoding": {"y": {"field": "ln", "type": "ordinal", "axis": null, "title": null}},
        "layer": [
          {"transform": [{"filter": "datum.l"}], "mark": {"type": "text", "align": "left", "font": "Liberation Serif", "fontSize": 26, "color": "#000"}, "encoding": {"x": {"datum": 0, "type": "quantitative", "scale": {"domain": [1.1538, 9.8458], "nice": false, "zero": false}, "axis": null}, "text": {"field": "l"}}},
          {"transform": [{"filter": "datum.c"}], "mark": {"type": "text", "align": "center", "font": "Liberation Serif", "fontSize": 26, "color": "#000"}, "encoding": {"x": {"datum": 4.346, "type": "quantitative", "scale": {"domain": [1.1538, 9.8458], "nice": false, "zero": false}, "axis": null}, "text": {"field": "c"}}},
          {"transform": [{"filter": "datum.r"}], "mark": {"type": "text", "align": "right", "font": "Liberation Serif", "fontSize": 26, "color": "#000"}, "encoding": {"x": {"datum": 8.692, "type": "quantitative", "scale": {"domain": [1.1538, 9.8458], "nice": false, "zero": false}, "axis": null}, "text": {"field": "r"}}},
          {"transform": [{"filter": "datum.nr"}], "mark": {"type": "text", "align": "right", "font": "Liberation Serif", "fontStyle": "italic", "fontSize": 26, "color": "#000"}, "encoding": {"x": {"datum": 8.692, "type": "quantitative", "scale": {"domain": [1.1538, 9.8458], "nice": false, "zero": false}, "axis": null}, "text": {"field": "nr"}}},
          {"transform": [{"filter": "datum.n"}], "mark": {"type": "text", "align": "left", "font": "Liberation Serif", "fontStyle": "italic", "fontSize": 26, "color": "#000"}, "encoding": {"x": {"datum": 0, "type": "quantitative", "scale": {"domain": [1.1538, 9.8458], "nice": false, "zero": false}, "axis": null}, "text": {"field": "n"}}},
          {"transform": [{"filter": "datum.d"}, {"calculate": "0.5*length(datum.n) - 0.22*length(replace(datum.n, regexp('[^iltfj]', 'g'), '')) - 0.14*length(replace(datum.n, regexp('[^rs-]', 'g'), '')) - 0.06*length(replace(datum.n, regexp('[^ec]', 'g'), '')) + 0.2*length(replace(datum.n, regexp('[^mw]', 'g'), '')) + 0.25", "as": "after"}], "mark": {"type": "text", "align": "left", "font": "Liberation Serif", "fontSize": 26, "color": "#000"}, "encoding": {"x": {"field": "after", "type": "quantitative", "scale": {"domain": [1.1538, 9.8458], "nice": false, "zero": false}, "axis": null}, "text": {"field": "d"}}}
        ]}}
    ]},
    {"spacing": 23, "vconcat": [
      {"data": {"name": "stats"},
       "transform": [{"filter": {"field": "ds", "oneOf": ["svhn","tf_flowers","uc_merced","ucf101"]}}],
       "facet": {"column": {"field": "ds", "type": "nominal", "title": null, "sort": ["svhn","tf_flowers","uc_merced","ucf101"]}},
       "spacing": 32, "resolve": {"axis": {"y": "independent"}},
       "spec": {"width": 194, "height": 134, "view": {"stroke": "#333", "strokeWidth": 0.8},
        "encoding": {"x": {"field": "md", "type": "nominal", "title": null, "scale": {"domain": ["MD1","MD2","MD3","MD4"], "paddingInner": 0, "paddingOuter": 0}, "axis": {"labelAngle": 0}}},
        "layer": [
          {"transform": [{"filter": "isValid(datum.q1)"}], "mark": {"type": "rule", "color": "#333", "strokeWidth": 0.8}, "encoding": {"y": {"field": "lo", "type": "quantitative", "title": null, "scale": {"domain": [0, 1], "nice": false, "zero": false}, "axis": {"values": [0, 0.2, 0.4, 0.6, 0.8, 1], "format": ".1f", "labelOverlap": false}}, "y2": {"field": "q1"}}},
          {"transform": [{"filter": "isValid(datum.q1)"}], "mark": {"type": "rule", "color": "#333", "strokeWidth": 0.8}, "encoding": {"y": {"field": "q3", "type": "quantitative", "title": null, "axis": {"values": [0, 0.2, 0.4, 0.6, 0.8, 1], "format": ".1f", "labelOverlap": false}}, "y2": {"field": "hi"}}},
          {"transform": [{"filter": "isValid(datum.q1)"}], "mark": {"type": "tick", "color": "#333", "size": 11, "thickness": 0.8}, "encoding": {"y": {"field": "lo", "type": "quantitative", "title": null, "axis": {"values": [0, 0.2, 0.4, 0.6, 0.8, 1], "format": ".1f", "labelOverlap": false}}}},
          {"transform": [{"filter": "isValid(datum.q1)"}], "mark": {"type": "tick", "color": "#333", "size": 11, "thickness": 0.8}, "encoding": {"y": {"field": "hi", "type": "quantitative", "title": null, "axis": {"values": [0, 0.2, 0.4, 0.6, 0.8, 1], "format": ".1f", "labelOverlap": false}}}},
          {"transform": [{"filter": "isValid(datum.q1)"}], "mark": {"type": "bar", "fill": "#fff", "stroke": "#333", "strokeWidth": 0.8, "width": {"band": 0.45}}, "encoding": {"y": {"field": "q1", "type": "quantitative", "title": null, "axis": {"values": [0, 0.2, 0.4, 0.6, 0.8, 1], "format": ".1f", "labelOverlap": false}}, "y2": {"field": "q3"}}},
          {"transform": [{"filter": "isValid(datum.q1)"}], "mark": {"type": "tick", "color": "#ff7f0e", "size": 22, "thickness": 0.9}, "encoding": {"y": {"field": "med", "type": "quantitative", "title": null, "axis": {"values": [0, 0.2, 0.4, 0.6, 0.8, 1], "format": ".1f", "labelOverlap": false}}}},
          {"transform": [{"filter": "isValid(datum.v)"}], "mark": {"type": "point", "shape": "circle", "filled": false, "stroke": "#222", "strokeWidth": 0.6, "size": 14, "opacity": 1}, "encoding": {"y": {"field": "v", "type": "quantitative", "title": null, "axis": {"values": [0, 0.2, 0.4, 0.6, 0.8, 1], "format": ".1f", "labelOverlap": false}}}}
        ]}},
      {"data": {"name": "cap"},
       "transform": [{"filter": {"field": "id", "oneOf": ["u","v","w","x"]}}],
       "facet": {"column": {"field": "id", "type": "nominal", "title": null, "header": null}},
       "spacing": 3,
       "spec": {"width": 226, "height": {"step": 31}, "view": {"stroke": null},
        "encoding": {"y": {"field": "ln", "type": "ordinal", "axis": null, "title": null}},
        "layer": [
          {"transform": [{"filter": "datum.l"}], "mark": {"type": "text", "align": "left", "font": "Liberation Serif", "fontSize": 26, "color": "#000"}, "encoding": {"x": {"datum": 0, "type": "quantitative", "scale": {"domain": [1.1538, 9.8458], "nice": false, "zero": false}, "axis": null}, "text": {"field": "l"}}},
          {"transform": [{"filter": "datum.c"}], "mark": {"type": "text", "align": "center", "font": "Liberation Serif", "fontSize": 26, "color": "#000"}, "encoding": {"x": {"datum": 4.346, "type": "quantitative", "scale": {"domain": [1.1538, 9.8458], "nice": false, "zero": false}, "axis": null}, "text": {"field": "c"}}},
          {"transform": [{"filter": "datum.r"}], "mark": {"type": "text", "align": "right", "font": "Liberation Serif", "fontSize": 26, "color": "#000"}, "encoding": {"x": {"datum": 8.692, "type": "quantitative", "scale": {"domain": [1.1538, 9.8458], "nice": false, "zero": false}, "axis": null}, "text": {"field": "r"}}},
          {"transform": [{"filter": "datum.nr"}], "mark": {"type": "text", "align": "right", "font": "Liberation Serif", "fontStyle": "italic", "fontSize": 26, "color": "#000"}, "encoding": {"x": {"datum": 8.692, "type": "quantitative", "scale": {"domain": [1.1538, 9.8458], "nice": false, "zero": false}, "axis": null}, "text": {"field": "nr"}}},
          {"transform": [{"filter": "datum.n"}], "mark": {"type": "text", "align": "left", "font": "Liberation Serif", "fontStyle": "italic", "fontSize": 26, "color": "#000"}, "encoding": {"x": {"datum": 0, "type": "quantitative", "scale": {"domain": [1.1538, 9.8458], "nice": false, "zero": false}, "axis": null}, "text": {"field": "n"}}},
          {"transform": [{"filter": "datum.d"}, {"calculate": "0.5*length(datum.n) - 0.22*length(replace(datum.n, regexp('[^iltfj]', 'g'), '')) - 0.14*length(replace(datum.n, regexp('[^rs-]', 'g'), '')) - 0.06*length(replace(datum.n, regexp('[^ec]', 'g'), '')) + 0.2*length(replace(datum.n, regexp('[^mw]', 'g'), '')) + 0.25", "as": "after"}], "mark": {"type": "text", "align": "left", "font": "Liberation Serif", "fontSize": 26, "color": "#000"}, "encoding": {"x": {"field": "after", "type": "quantitative", "scale": {"domain": [1.1538, 9.8458], "nice": false, "zero": false}, "axis": null}, "text": {"field": "d"}}}
        ]}}
    ]}
  ],
  "config": {
    "view": {"stroke": null},
    "axis": {"labelFont": "DejaVu Sans", "labelFontSize": 4.4, "labelColor": "#222", "tickColor": "#333", "tickSize": 2, "tickWidth": 0.6, "labelPadding": 1, "domain": false, "grid": false, "labelOverlap": false, "labelFlush": false},
    "axisY": {"minExtent": 30},
    "header": {"labelFont": "DejaVu Sans", "labelFontSize": 5.4, "labelColor": "#222", "labelPadding": 3}
  }
}
